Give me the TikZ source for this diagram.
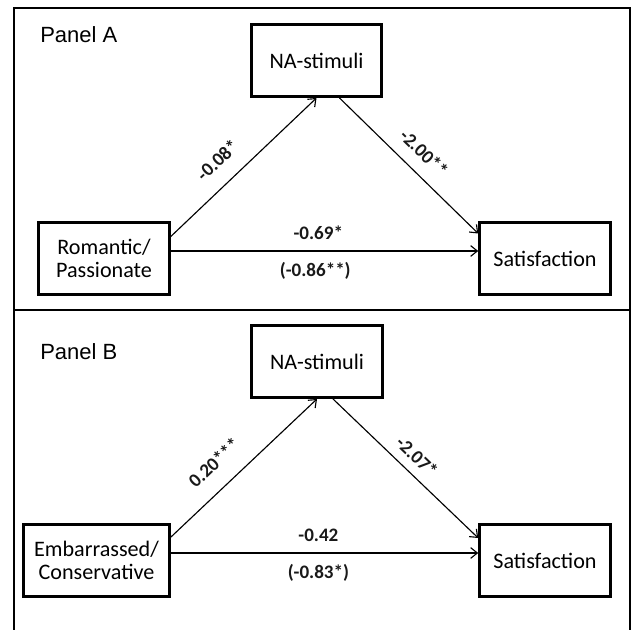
\documentclass[tikz,border=0pt]{standalone}
\usepackage{fontspec}
\setmainfont{Carlito}
\newfontfamily\panelfont{Liberation Sans}
\usepackage{tikz}
\usetikzlibrary{arrows.meta}

\begin{document}
\begin{tikzpicture}[x=0.75pt,y=-0.75pt]
    \newcommand{\coef}[3]{node[pos=#1,sloped,above=#2,coeflabel] {#3}}
    \newcommand{\coefbelow}[3]{node[pos=#1,sloped,below=#2,coeflabel] {#3}}

    \tikzstyle{frame} = [line width=2.2pt,draw=black]
    \tikzstyle{dedge} = [line width=0.85pt,->,>={Straight Barb[length=5pt,width=8pt]},draw=black]
    \tikzstyle{box}=[
      rectangle,
      draw=black,
      line width=2.2pt,
      minimum width=98pt,
      minimum height=54pt,
      align=center,
      font=\fontsize{16.6}{17.3}\selectfont,
    ]
    \tikzstyle{panel}=[anchor=west,inner sep=0pt,font=\panelfont\fontsize{16.5}{19}\selectfont]
    \tikzstyle{coeflabel}=[font=\fontsize{14.3}{17}\selectfont\bfseries,text=black!90]

    \useasboundingbox (0,0) rectangle (633,630);

    % panel frames
    \draw[frame] (14,8) rectangle (630,310);
    \draw[frame] (14,310) -- (14,630);
    \draw[line width=0.9pt] (630,310) -- (630,630);

    % Panel A
    \node[panel] (labA) at (40,35) {Panel A};
    \node[box] (naA) at (316.5,60.5) {NA-stimuli};
    \node[box] (romA) at (104,258.5) {Romantic/\\Passionate};
    \node[box] (satA) at (545,258.5) {Satisfaction};

    \draw[dedge] ([shift={(0,-22)}]romA.east)--(naA.south) \coef{0.43}{8.5pt}{-0.08*};
    \draw[dedge] ([shift={(23,0)}]naA.south)--([shift={(0,-25)}]satA.west) \coef{0.51}{6pt}{-2.00**};
    \draw[dedge] ([shift={(0,-7.5)}]romA.east)--([shift={(0,-7.5)}]satA.west)
      \coef{0.48}{5pt}{-0.69*} \coefbelow{0.47}{5pt}{(-0.86**)};

    % Panel B
    \node[panel] (labB) at (40,352) {Panel B};
    \node[box] (naB) at (317,361.5) {NA-stimuli};
    \node[box,minimum width=109.5pt] (embB) at (96.5,560.5) {Embarrassed/\\Conservative};
    \node[box] (satB) at (545,560.5) {Satisfaction};

    \draw[dedge] ([shift={(0,-23.5)}]embB.east)--(naB.south) \coef{0.41}{9.5pt}{0.20***};
    \draw[dedge] ([shift={(16,0)}]naB.south)--([shift={(0,-22.5)}]satB.west) \coef{0.5}{3.5pt}{-2.07*};
    \draw[dedge] ([shift={(0,-7.5)}]embB.east)--([shift={(0,-7.5)}]satB.west)
      \coef{0.48}{5pt}{-0.42} \coefbelow{0.48}{5pt}{(-0.83*)};
  \end{tikzpicture}
\end{document}
